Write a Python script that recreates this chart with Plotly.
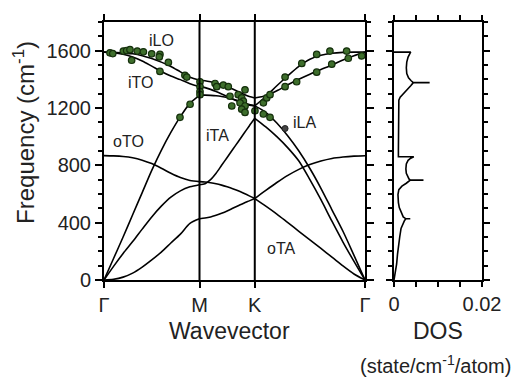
import plotly.graph_objects as go

# ---- path geometry (reciprocal-space distances) ----
k_G, k_M, k_K, k_G2 = 0.0, 0.577, 0.911, 1.577
kpath_vals = [k_G, k_M, k_K, k_G2]
kpath_text = ["Γ", "M", "K", "Γ"]

# fractional position inside each segment
t11 = [0.0, 0.1, 0.2, 0.3, 0.4, 0.5, 0.6, 0.7, 0.8, 0.9, 1.0]

# ---- Γ -> M branches (cm^-1) ----
gm_oTA = [0, 5, 20, 48, 90, 140, 195, 258, 320, 395, 427]
gm_iTA = [0, 95, 185, 268, 355, 440, 515, 578, 622, 650, 665]
gm_oTO = [868, 866, 862, 853, 836, 812, 780, 745, 715, 694, 686]
gm_iLA = [0, 150, 300, 455, 610, 765, 905, 1030, 1140, 1232, 1288]
gm_iLO = [1590, 1589, 1584, 1578, 1565, 1545, 1520, 1490, 1452, 1415, 1394]
gm_iTO = [1590, 1586, 1575, 1556, 1528, 1492, 1455, 1423, 1398, 1370, 1349]

# ---- M -> K branches ----
mk_oTA = [427, 432, 440, 452, 466, 482, 500, 518, 536, 552, 568]
mk_iTA = [665, 672, 700, 745, 800, 855, 910, 965, 1020, 1075, 1128]
mk_oTO = [686, 684, 679, 672, 662, 650, 637, 622, 605, 587, 568]
mk_iLA = [1290, 1290, 1288, 1285, 1280, 1273, 1263, 1250, 1237, 1225, 1215]
mk_iLO = [1394, 1390, 1383, 1374, 1362, 1348, 1332, 1314, 1296, 1280, 1270]
mk_iTO = [1349, 1342, 1330, 1315, 1298, 1280, 1262, 1245, 1230, 1220, 1215]

# ---- K -> Γ branches ----
kg_oTA = [568, 515, 460, 400, 340, 280, 220, 160, 98, 42, 0]
kg_oTO = [568, 625, 680, 730, 772, 805, 830, 848, 858, 864, 867]
kg_iTA = [1128, 1068, 1000, 922, 830, 700, 560, 410, 265, 130, 0]
kg_iLA = [1215, 1170, 1095, 1005, 900, 778, 640, 490, 340, 172, 0]
kg_iLO = [1215, 1280, 1355, 1425, 1490, 1540, 1568, 1582, 1588, 1590, 1590]
kg_iTO = [1270, 1285, 1320, 1362, 1400, 1435, 1468, 1500, 1535, 1565, 1590]

# ---- experimental points ----
exp_k = [0.036, 0.053, 0.117, 0.137, 0.157, 0.167, 0.201, 0.238, 0.288, 0.338, 0.334,
         0.389, 0.338, 0.489, 0.500, 0.580, 0.580, 0.580, 0.520, 0.459, 0.580,
         0.671, 0.681, 0.721, 0.751, 0.761, 0.772, 0.811, 0.832, 0.852, 0.842,
         0.822, 0.852, 0.832, 0.852, 0.912, 0.963, 1.003, 0.963, 0.983, 1.003,
         1.094, 1.094, 1.164, 1.195, 1.285, 1.285, 1.365, 1.376, 1.466, 1.476, 1.557]
exp_f = [1585, 1580, 1597, 1601, 1607, 1533, 1597, 1592, 1578, 1574, 1556,
         1518, 1455, 1428, 1416, 1383, 1349, 1315, 1226, 1135, 1293,
         1371, 1349, 1360, 1349, 1282, 1214, 1293, 1270, 1327, 1248,
         1236, 1214, 1192, 1169, 1180, 1158, 1135, 1236, 1270, 1293,
         1416, 1349, 1383, 1511, 1574, 1450, 1597, 1506, 1597, 1547, 1563]
iLA_pt_k = [1.094]
iLA_pt_f = [1057]

# ---- density of states ----
dos_freq = [0, 50, 112, 180, 247, 300, 360, 395, 415, 427, 427, 427, 440, 472, 505, 540,
            596, 630, 655, 675, 690, 697, 697, 697, 705, 720, 745, 775, 810, 835, 850,
            860, 860, 900, 1000, 1100, 1200, 1255, 1275, 1300, 1330, 1355, 1370, 1377,
            1377, 1377, 1390, 1410, 1440, 1480, 1520, 1555, 1580, 1590, 1590]
dos_val = [0, 0.0003, 0.0006, 0.0008, 0.0010, 0.0013, 0.0016, 0.0020, 0.0024, 0.0027,
           0.0037, 0.0027, 0.0021, 0.0016, 0.0012, 0.0010, 0.0009, 0.0011, 0.0018,
           0.0028, 0.0034, 0.0037, 0.0067, 0.0037, 0.0034, 0.0031, 0.0028, 0.0027,
           0.0028, 0.0032, 0.0038, 0.0045, 0.0010, 0.0010, 0.0010, 0.0011, 0.0011,
           0.0011, 0.0014, 0.0022, 0.0031, 0.0038, 0.0042, 0.0044, 0.0081, 0.0044,
           0.0039, 0.0033, 0.0029, 0.0028, 0.0029, 0.0032, 0.0036, 0.0038, 0.0]

labels = ["iLO", "iTO", "oTO", "iTA", "iLA", "oTA"]
label_k = [0.350, 0.218, 0.145, 0.683, 1.214, 1.069]
label_f = [1673, 1376, 965, 1005, 1099, 222]

FONT = "Liberation Sans, Arial, sans-serif"
fig = go.Figure()

segments = [
    (k_G, k_M, [gm_oTA, gm_iTA, gm_oTO, gm_iLA, gm_iLO, gm_iTO]),
    (k_M, k_K, [mk_oTA, mk_iTA, mk_oTO, mk_iLA, mk_iLO, mk_iTO]),
    (k_K, k_G2, [kg_oTA, kg_oTO, kg_iTA, kg_iLA, kg_iLO, kg_iTO]),
]
for k0, k1, branches in segments:
    ks = [k0 + t * (k1 - k0) for t in t11]
    for br in branches:
        fig.add_trace(go.Scatter(x=ks, y=br, mode="lines",
                                 line=dict(color="black", width=1.6, shape="spline", smoothing=0.8),
                                 showlegend=False, hoverinfo="skip", xaxis="x", yaxis="y"))

fig.add_trace(go.Scatter(x=exp_k, y=exp_f, mode="markers",
                         marker=dict(size=6.5, color="#3e6e2c", line=dict(color="#15300c", width=1.2)),
                         showlegend=False, xaxis="x", yaxis="y"))
fig.add_trace(go.Scatter(x=iLA_pt_k, y=iLA_pt_f, mode="markers",
                         marker=dict(size=6, color="#444444", line=dict(color="#222222", width=1)),
                         showlegend=False, xaxis="x", yaxis="y"))

fig.add_trace(go.Scatter(x=dos_val, y=dos_freq, mode="lines",
                         line=dict(color="black", width=1.6),
                         showlegend=False, xaxis="x2", yaxis="y2"))

# vertical high-symmetry lines
for kv in [k_M, k_K]:
    fig.add_shape(type="line", x0=kv, x1=kv, y0=0, y1=1800, xref="x", yref="y",
                  line=dict(color="black", width=2))

for txt, kx, fy in zip(labels, label_k, label_f):
    fig.add_annotation(x=kx, y=fy, xref="x", yref="y", text=txt, showarrow=False,
                       xanchor="center", yanchor="middle",
                       font=dict(family=FONT, size=16, color="#222"))

ax_common = dict(showline=True, linecolor="black", linewidth=2, mirror="allticks",
                 ticks="outside", tickcolor="black", tickwidth=1.5, showgrid=False,
                 zeroline=False, tickfont=dict(family=FONT, size=20, color="#222"))

# page body adds an 8px offset; the figure is sized to fit inside the window
fig.update_layout(
    width=514, height=369,
    margin=dict(l=96, r=40, t=6, b=97),
    paper_bgcolor="white", plot_bgcolor="white",
    xaxis=dict(domain=[0, 0.6905], range=[k_G, k_G2], tickvals=kpath_vals,
               ticktext=kpath_text, ticklen=6, **ax_common),
    yaxis=dict(range=[0, 1800], dtick=400, tick0=0, ticklen=7,
               minor=dict(dtick=100, ticklen=4, ticks="outside", tickcolor="black", tickwidth=1.5),
               **ax_common),
    xaxis2=dict(domain=[0.7672, 1], range=[0, 0.02], anchor="y2",
                tickvals=[0, 0.005, 0.01, 0.015, 0.02], ticktext=["0", "", "", "", "0.02"],
                ticklen=5, **ax_common),
    yaxis2=dict(range=[0, 1800], anchor="x2", dtick=400, tick0=0, ticklen=6,
                showticklabels=False,
                minor=dict(dtick=100, ticklen=4, ticks="outside", tickcolor="black", tickwidth=1.5),
                **ax_common),
)

title_font = dict(family=FONT, size=23, color="#222")
fig.add_annotation(x=-0.2116, y=0.57, xref="paper", yref="paper", textangle=-90,
                   xanchor="center", yanchor="middle",
                   text="Frequency (cm<sup>-1</sup>)", showarrow=False,
                   font=dict(family=FONT, size=24, color="#222"))
fig.add_annotation(x=0.333, y=-0.199, xref="paper", yref="paper", text="Wavevector",
                   xanchor="center", yanchor="middle", showarrow=False, font=title_font)
fig.add_annotation(x=0.8836, y=-0.199, xref="paper", yref="paper", text="DOS",
                   xanchor="center", yanchor="middle", showarrow=False, font=title_font)
fig.add_annotation(x=0.878, y=-0.327, xref="paper", yref="paper",
                   text="(state/cm<sup>-1</sup>/atom)", xanchor="center", yanchor="middle",
                   showarrow=False, font=dict(family=FONT, size=20, color="#222"))

fig.write_html("out.html")
